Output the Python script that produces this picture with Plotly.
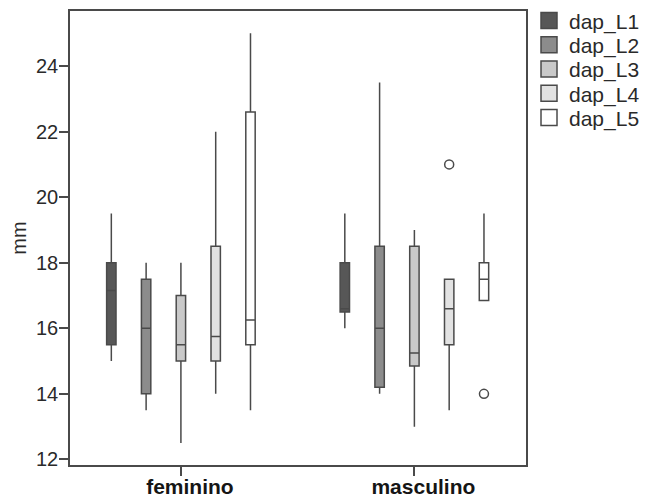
import plotly.graph_objects as go

categories = ["feminino", "masculino"]
series_names = ["dap_L1", "dap_L2", "dap_L3", "dap_L4", "dap_L5"]
fill_colors = ["#575757", "#8c8c8c", "#c9c9c9", "#e2e2e2", "#ffffff"]

# per series: [feminino, masculino]
lower_fence = [[15.0, 16.0], [13.5, 14.0], [12.5, 13.0], [14.0, 13.5], [13.5, 16.85]]
q1_vals     = [[15.5, 16.5], [14.0, 14.2], [15.0, 14.85], [15.0, 15.5], [15.5, 16.85]]
median_vals = [[17.15, 16.6], [16.0, 16.0], [15.5, 15.25], [15.75, 16.6], [16.25, 17.5]]
q3_vals     = [[18.0, 18.0], [17.5, 18.5], [17.0, 18.5], [18.5, 17.5], [22.6, 18.0]]
upper_fence = [[19.5, 19.5], [18.0, 23.5], [18.0, 19.0], [22.0, 17.5], [25.0, 19.5]]
outliers    = [[[], []], [[], []], [[], []], [[], [21.0]], [[], [14.0]]]

line_col = "#4a4a4a"
text_col = "#2a2a2a"
font_family = "Liberation Sans, Arial, sans-serif"

# one legend per series so the entries can sit as tightly as in the reference
legend_ids = ["legend", "legend2", "legend3", "legend4", "legend5"]

fig = go.Figure()
for i, name in enumerate(series_names):
    for j, cat in enumerate(categories):
        kw = {}
        if outliers[i][j]:
            kw["y"] = [outliers[i][j]]
        fig.add_trace(go.Box(
            name=name,
            x=[cat],
            q1=[q1_vals[i][j]],
            median=[median_vals[i][j]],
            q3=[q3_vals[i][j]],
            lowerfence=[lower_fence[i][j]],
            upperfence=[upper_fence[i][j]],
            offsetgroup=name,
            legendgroup=name,
            showlegend=False,
            fillcolor=fill_colors[i],
            line=dict(color=line_col, width=1.5),
            whiskerwidth=0,
            boxpoints="outliers",
            pointpos=0,
            jitter=0,
            marker=dict(symbol="circle-open", size=9, color=line_col,
                        line=dict(width=1.5, color=line_col)),
            hoverinfo="skip",
            **kw,
        ))

# legend swatches (no data points)
for i, name in enumerate(series_names):
    fig.add_trace(go.Scatter(
        name=name, x=[None], y=[None], mode="markers",
        marker=dict(symbol="square", size=16, color=fill_colors[i],
                    line=dict(width=1.5, color=line_col)),
        legendgroup=name, showlegend=True, hoverinfo="skip",
        legend=legend_ids[i],
    ))

legend_top = 0.9784
legend_step = 0.0535
legend_layout = {}
for i, lid in enumerate(legend_ids):
    legend_layout[lid] = dict(
        x=1.0066, y=legend_top - i * legend_step,
        xanchor="left", yanchor="middle",
        bgcolor="rgba(0,0,0,0)", borderwidth=0,
        font=dict(size=21, color=text_col, family=font_family),
        itemclick=False, itemdoubleclick=False,
    )

fig.update_layout(
    width=646, height=499,
    margin=dict(l=70, r=120, t=11, b=34, autoexpand=False),
    paper_bgcolor="white", plot_bgcolor="white",
    boxmode="group", boxgap=0.255, boxgroupgap=0.73,
    font=dict(family=font_family, size=20, color=text_col),
    showlegend=True,
    xaxis=dict(
        type="category", range=[-0.475, 1.478], automargin=False,
        showline=True, linecolor=line_col, linewidth=1.5, mirror=True,
        ticks="outside", ticklen=9, tickwidth=1.5, tickcolor=line_col,
        ticklabelshift=9, ticklabelstandoff=-7,
        showgrid=False, zeroline=False,
        tickfont=dict(size=21, weight="bold", color="#151515"),
    ),
    yaxis=dict(
        range=[11.83, 25.68], automargin=False,
        tickvals=[12, 14, 16, 18, 20, 22, 24],
        showline=True, linecolor=line_col, linewidth=1.5, mirror=True,
        ticks="outside", ticklen=9, tickwidth=1.5, tickcolor=line_col,
        ticklabelstandoff=-3,
        showgrid=False, zeroline=False,
        tickfont=dict(size=20),
        title=dict(text="mm", font=dict(size=20), standoff=4),
    ),
    **legend_layout,
)

fig.write_html(
    "out.html",
    config={"displayModeBar": False},
    post_script="document.documentElement.style.margin='0';"
                "document.body.style.margin='0';"
                "document.body.style.overflow='hidden';",
)
